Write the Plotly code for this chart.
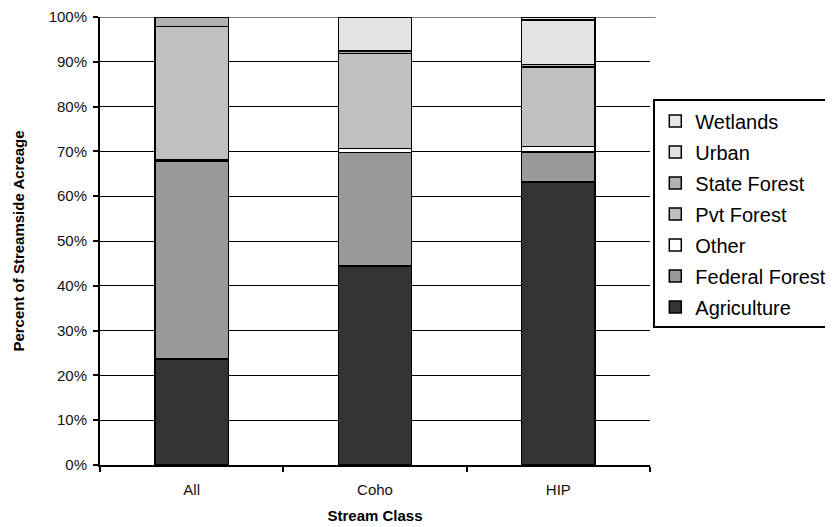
import plotly.graph_objects as go

categories = ["All", "Coho", "HIP"]
agriculture = [23.7, 44.4, 63.2]
federal_forest = [44.0, 25.4, 6.65]
other = [0.4, 0.8, 1.2]
pvt_forest = [29.8, 21.2, 17.8]
state_forest = [2.1, 0.6, 0.5]
urban = [0.0, 7.6, 10.0]
wetlands = [0.0, 0.0, 0.6]

series = [
    ("Agriculture", agriculture, "#333333"),
    ("Federal Forest", federal_forest, "#999999"),
    ("Other", other, "#FFFFFF"),
    ("Pvt Forest", pvt_forest, "#C0C0C0"),
    ("State Forest", state_forest, "#B2B2B2"),
    ("Urban", urban, "#E3E3E3"),
    ("Wetlands", wetlands, "#E8E8E8"),
]

y_ticks = [0, 10, 20, 30, 40, 50, 60, 70, 80, 90, 100]
y_ticktext = [f"{v}%" for v in y_ticks]

fig = go.Figure()
n = len(series)
for i, (name, vals, color) in enumerate(series):
    fig.add_trace(go.Bar(
        x=categories, y=vals, name=name, legendgroup=name,
        legendrank=n - i,
        marker=dict(color=color, line=dict(color="black", width=1.5)),
        width=0.4,
    ))

font = "Liberation Sans, Arial, sans-serif"
# page body has an 8px default margin, so the figure is 8px smaller and offset
fig.update_layout(
    barmode="stack",
    width=825, height=519,
    margin=dict(l=92, r=183, t=9, b=62, autoexpand=False),
    paper_bgcolor="white", plot_bgcolor="white",
    font=dict(family=font, size=15, color="#111111"),
    showlegend=True,
    legend=dict(
        x=1.006, xanchor="left", y=0.816, yanchor="top",
        traceorder="grouped", tracegroupgap=2,
        bordercolor="black", borderwidth=2,
        font=dict(family=font, size=20, color="black"),
        itemwidth=30,
    ),
    xaxis=dict(
        showline=True, linecolor="black", linewidth=2,
        ticks="outside", tickson="boundaries", ticklen=5, tickwidth=1.5, tickcolor="black",
        ticklabelstandoff=10,
        title=dict(text="<b>Stream Class</b>", font=dict(size=15, color="black"), standoff=13),
        showgrid=False, automargin=False,
    ),
    yaxis=dict(
        range=[0, 100], tickvals=y_ticks, ticktext=y_ticktext,
        showline=True, linecolor="black", linewidth=2,
        ticks="outside", ticklen=5, tickwidth=1.5, tickcolor="black",
        ticklabelstandoff=3, ticklabeloverflow="allow",
        showgrid=True, gridcolor="black", gridwidth=1,
        zeroline=False, automargin=False,
        title=dict(text="<b>Percent of Streamside Acreage</b>", font=dict(size=15, color="black"), standoff=20),
    ),
    shapes=[dict(type="line", xref="paper", yref="y", x0=0, x1=1.01, y0=100, y1=100,
                 line=dict(color="#808080", width=2), layer="between")],
)

fig.write_html("out.html")
